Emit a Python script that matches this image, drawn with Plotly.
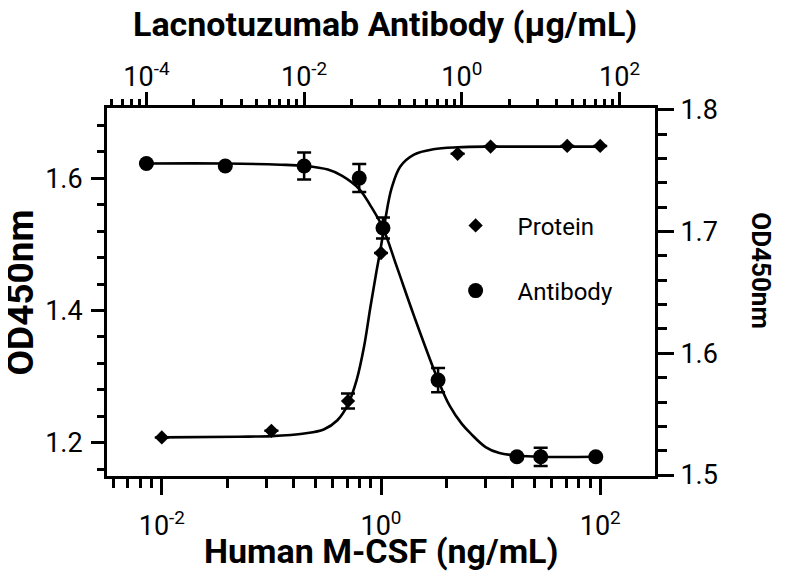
import plotly.graph_objects as go

# Protein: Human M-CSF (ng/mL) vs OD450nm (left axis)
protein_x = [0.01, 0.1, 0.5, 1, 5, 10, 50, 100]
protein_y = [1.208, 1.218, 1.263, 1.487, 1.637, 1.648, 1.649, 1.649]
protein_err = [0, 0, 0.0113, 0, 0, 0, 0, 0]

# fitted curve
protein_fit_x = [0.01, 0.05, 0.1, 0.2, 0.3, 0.4, 0.5, 0.6, 0.7, 0.8, 0.9, 1.0,
                 1.1, 1.25, 1.5, 2, 3, 5, 10, 30, 100]
protein_fit_y = [1.208, 1.209, 1.210, 1.214, 1.220, 1.234, 1.258, 1.295, 1.345,
                 1.405, 1.455, 1.497, 1.540, 1.585, 1.618, 1.636, 1.644, 1.647,
                 1.648, 1.648, 1.648]

# Antibody: Lacnotuzumab (ug/mL) vs OD450nm (right axis)
antibody_x = [1e-4, 1e-3, 0.01, 0.05, 0.1, 0.5, 5, 10, 50]
antibody_y = [1.756, 1.754, 1.754, 1.744, 1.703, 1.578, 1.515, 1.515, 1.515]
antibody_err = [0, 0, 0.0111, 0.0115, 0.0086, 0.0099, 0, 0.0075, 0]

antibody_fit_x = [1e-4, 1e-3, 0.005, 0.01, 0.02, 0.03, 0.05, 0.07, 0.1, 0.15,
                  0.25, 0.5, 0.7, 1, 1.3, 2, 3, 5, 10, 50]
antibody_fit_y = [1.756, 1.756, 1.755, 1.754, 1.751, 1.746, 1.735, 1.721, 1.703,
                  1.671, 1.630, 1.578, 1.557, 1.542, 1.534, 1.523, 1.518, 1.516,
                  1.515, 1.515]

bottom_ticks = [1e-2, 1e0, 1e2]
bottom_labels = ["10<sup>-2</sup>", "10<sup>0</sup>", "10<sup>2</sup>"]
top_ticks = [1e-4, 1e-2, 1e0, 1e2]
top_labels = ["10<sup>-4</sup>", "10<sup>-2</sup>", "10<sup>0</sup>", "10<sup>2</sup>"]
left_ticks = [1.2, 1.4, 1.6]
right_ticks = [1.5, 1.6, 1.7, 1.8]

FONT = "Roboto"
BLACK = "#000000"

# minor ticks every "k^2" inside each 2-decade step (as the Prism axis does)
def minor_vals(lo, hi):
    vals = []
    for n in range(lo, hi):
        for k in range(2, 10):
            vals.append(10.0 ** (2 * n) * k * k)
    return vals

fig = go.Figure()

fig.add_trace(go.Scatter(
    x=protein_fit_x, y=protein_fit_y, mode="lines",
    line=dict(color=BLACK, width=2.6, shape="spline", smoothing=1.0),
    showlegend=False, hoverinfo="skip", xaxis="x", yaxis="y"
))
fig.add_trace(go.Scatter(
    x=protein_x, y=protein_y, mode="markers", name="Protein",
    marker=dict(symbol="diamond", size=11, color=BLACK),
    error_y=dict(type="data", array=protein_err, visible=True,
                 color=BLACK, thickness=2.5, width=7),
    legendgroup="p", xaxis="x", yaxis="y"
))
fig.add_trace(go.Scatter(
    x=antibody_fit_x, y=antibody_fit_y, mode="lines",
    line=dict(color=BLACK, width=2.6, shape="spline", smoothing=1.0),
    showlegend=False, hoverinfo="skip", xaxis="x2", yaxis="y2"
))
fig.add_trace(go.Scatter(
    x=antibody_x, y=antibody_y, mode="markers", name="Antibody",
    marker=dict(symbol="circle", size=15, color=BLACK),
    error_y=dict(type="data", array=antibody_err, visible=True,
                 color=BLACK, thickness=2.5, width=7),
    legendgroup="a", xaxis="x2", yaxis="y2"
))

axis_common = dict(
    showline=True, linewidth=3, linecolor=BLACK, showgrid=False, zeroline=False,
    ticks="outside", tickcolor=BLACK, tickwidth=2.5, automargin=False,
    tickfont=dict(family=FONT, size=27, color=BLACK),
)

# page body has an 8px margin, so the figure is a bit smaller than the window
fig.update_layout(
    width=777, height=573,
    margin=dict(l=99, r=130, t=100, b=105),
    paper_bgcolor="white", plot_bgcolor="white",
    font=dict(family=FONT, color=BLACK),
    xaxis=dict(
        type="log", range=[-2.5, 2.5], anchor="y", side="bottom",
        tickmode="array", tickvals=bottom_ticks, ticktext=bottom_labels,
        ticklen=16, ticklabelstandoff=8,
        minor=dict(tickmode="array", tickvals=minor_vals(-2, 2), ticks="outside",
                   ticklen=9, tickwidth=2.5, tickcolor=BLACK),
        **axis_common
    ),
    xaxis2=dict(
        type="log", range=[-4.5, 2.45], overlaying="x", anchor="y", side="top",
        tickmode="array", tickvals=top_ticks, ticktext=top_labels,
        ticklen=13, ticklabelstandoff=-5,
        minor=dict(tickmode="array", tickvals=minor_vals(-3, 2), ticks="outside",
                   ticklen=6, tickwidth=2.5, tickcolor=BLACK),
        **axis_common
    ),
    yaxis=dict(
        range=[1.1496, 1.7064], anchor="x", side="left",
        tickmode="array", tickvals=left_ticks, ticktext=["1.2", "1.4", "1.6"],
        ticklen=13, ticklabelstandoff=3,
        minor=dict(dtick=0.04, tick0=1.2, ticks="outside",
                   ticklen=7, tickwidth=2.5, tickcolor=BLACK),
        **axis_common
    ),
    yaxis2=dict(
        range=[1.4992, 1.8016], overlaying="y", anchor="x", side="right",
        tickmode="array", tickvals=right_ticks, ticktext=["1.5", "1.6", "1.7", "1.8"],
        ticklen=16, ticklabelstandoff=1,
        minor=dict(dtick=0.02, tick0=1.5, ticks="outside",
                   ticklen=9, tickwidth=2.5, tickcolor=BLACK),
        **axis_common
    ),
    showlegend=True,
    legend=dict(
        x=0.596, y=0.741, xanchor="left", yanchor="top",
        font=dict(family=FONT, size=24, color=BLACK),
        itemwidth=74, traceorder="grouped", tracegroupgap=31,
        bgcolor="rgba(0,0,0,0)",
    ),
)

fig.add_annotation(text="Human M-CSF (ng/mL)", xref="paper", yref="paper",
                   x=0.5, y=-0.204, xanchor="center", yanchor="middle",
                   showarrow=False,
                   font=dict(family=FONT, size=34, color=BLACK, weight="bold"))
fig.add_annotation(text="Lacnotuzumab Antibody (µg/mL)", xref="paper", yref="paper",
                   x=0.507, y=1.229, xanchor="center", yanchor="middle",
                   showarrow=False,
                   font=dict(family=FONT, size=34, color=BLACK, weight="bold"))
fig.add_annotation(text="OD450nm", xref="paper", yref="paper",
                   x=-0.158, y=0.5, xanchor="center", yanchor="middle",
                   textangle=-90, showarrow=False,
                   font=dict(family=FONT, size=37, color=BLACK, weight="bold"))
fig.add_annotation(text="OD450nm", xref="paper", yref="paper",
                   x=1.193, y=0.557, xanchor="center", yanchor="middle",
                   textangle=90, showarrow=False,
                   font=dict(family=FONT, size=26, color=BLACK, weight="bold"))

fig.write_html("out.html")
